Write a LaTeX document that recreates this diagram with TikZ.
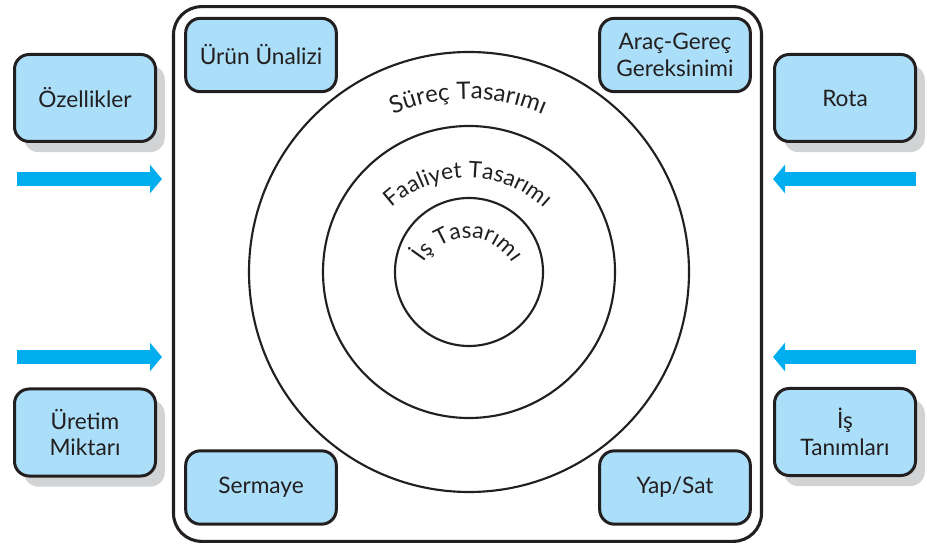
\documentclass[tikz,border=0pt]{standalone}
\usepackage{fontspec}
\setmainfont{Lato}
\usetikzlibrary{shadows,arrows.meta,decorations.text}

\definecolor{ink}{RGB}{35,31,32}
\definecolor{boxblue}{RGB}{170,222,249}
\definecolor{flowblue}{RGB}{0,174,239}
\definecolor{shadowgray}{RGB}{209,211,212}

\begin{document}
\begin{tikzpicture}[x=0.75pt,y=0.75pt,
  boxbase/.style={draw=ink, line width=2.25pt, fill=boxblue, rounded corners=11pt,
    align=center, text=ink, inner sep=2pt, font=\fontsize{17}{20}\selectfont},
  outerbox/.style={boxbase, minimum width=105.75pt, minimum height=65.25pt,
    drop shadow={shadow xshift=7pt, shadow yshift=-8pt, fill=shadowgray, opacity=1}},
  innerbox/.style={boxbase, minimum width=113pt, minimum height=55pt},
  frame/.style={draw=ink, line width=2.3pt, rounded corners=21pt, inner sep=0pt},
  ring/.style={circle, draw=ink, line width=1.6pt, inner sep=0pt},
  flow/.style={draw=flowblue, line width=10.5pt, -{Triangle[width=21pt,length=9pt]}},
  arctext/.style 2 args={decorate, decoration={text along path, text align=center,
    text color=ink, text={|\fontsize{#1}{20}\selectfont|#2}}}
]
\useasboundingbox (0,0) rectangle (927,546);

% main frame
\node[frame, minimum width=441pt, minimum height=401pt] (frame) at (467.5,272) {};

% nested design levels
\node[ring, minimum size=330pt] (surec) at (469,274) {};
\node[ring, minimum size=219pt] (faaliyet) at (469,274) {};
\node[ring, minimum size=111pt] (is) at (469,274) {};

% curved labels of the levels
\path[arctext={18}{Süreç Tasarımı}] (468,256) ++(165:191) arc[start angle=165, end angle=15, radius=191];
\path[arctext={17}{Faaliyet Tasarımı}] (468,256) ++(170:112) arc[start angle=170, end angle=10, radius=112];
\path[arctext={17}{İş Tasarımı}] (468,256) ++(178:52) arc[start angle=178, end angle=2, radius=52];

% boxes inside the frame
\node[innerbox] (urun) at (261,491) {Ürün Ünalizi};
\node[innerbox] (arac) at (675,491) {Araç-Gereç\\Gereksinimi};
\node[innerbox] (sermaye) at (261,58.5) {Sermaye};
\node[innerbox] (yapsat) at (675,58.5) {Yap/Sat};

% inputs outside the frame
\node[outerbox] (ozellik) at (85,448) {Özellikler};
\node[outerbox] (uretim) at (85,113.5) {Üretim\\Miktarı};
\node[outerbox] (rota) at (845,448) {Rota};
\node[outerbox] (tanim) at (845,114) {İş\\Tanımları};

% flow arrows towards the frame
\coordinate (l1s) at (17,367);  \coordinate (l1e) at (162,367);
\coordinate (l2s) at (17,189);  \coordinate (l2e) at (162,189);
\coordinate (r1s) at (916,367); \coordinate (r1e) at (773,367);
\coordinate (r2s) at (916,189); \coordinate (r2e) at (773,189);
\draw[flow] (l1s) -- (l1e);
\draw[flow] (l2s) -- (l2e);
\draw[flow] (r1s) -- (r1e);
\draw[flow] (r2s) -- (r2e);
\end{tikzpicture}
\end{document}
